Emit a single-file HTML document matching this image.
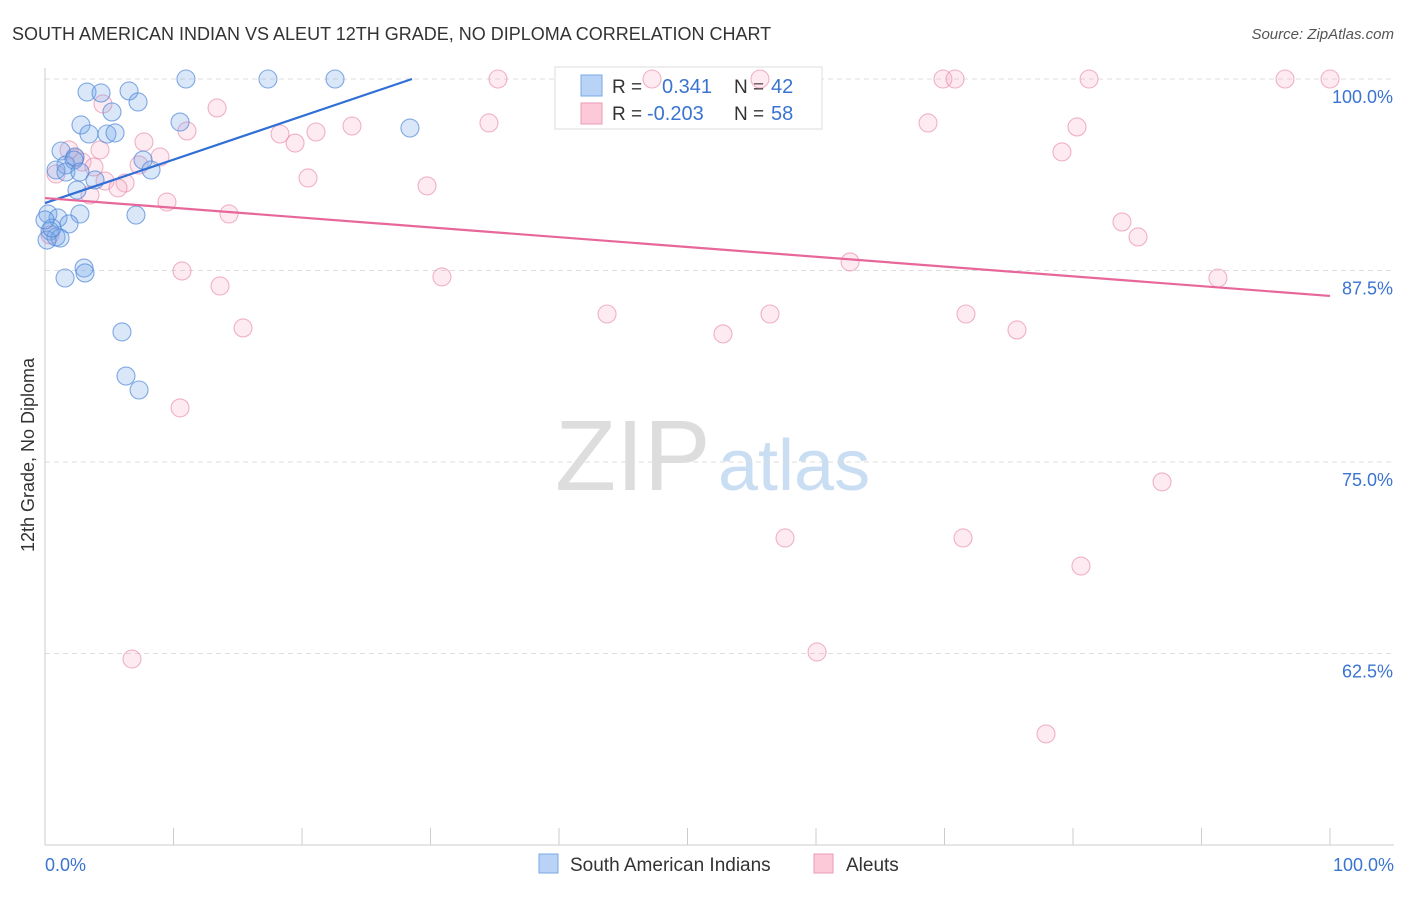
<!DOCTYPE html>
<html><head><meta charset="utf-8"><style>
body{margin:0;background:#fff;font-family:"Liberation Sans",sans-serif;}
svg text{font-family:"Liberation Sans",sans-serif;}
</style></head><body>
<svg id="chart" width="1406" height="892">
<text x="12" y="40" font-size="18" fill="#333">SOUTH AMERICAN INDIAN VS ALEUT 12TH GRADE, NO DIPLOMA CORRELATION CHART</text>
<text x="1394" y="39" font-size="15" fill="#555" font-style="italic" text-anchor="end">Source: ZipAtlas.com</text>
<text x="555" y="490" font-size="100" fill="#ddd" font-family="Liberation Serif">ZIP</text>
<text x="718" y="490" font-size="72" fill="#c9ddf3">atlas</text>
<text transform="translate(34,455) rotate(-90)" font-size="18" fill="#333" text-anchor="middle">12th Grade, No Diploma</text>
<g id="grid"></g>
<g>
<rect x="555" y="67" width="267" height="62" fill="#fff" stroke="#ddd"/>
<rect x="581" y="75" width="21" height="21" fill="#b8d3f5" stroke="#7aa8e6"/>
<text x="612" y="93" font-size="19" fill="#333">R =</text><text x="662" y="93" font-size="20" fill="#3a74d0">0.341</text>
<text x="734" y="93" font-size="19" fill="#333">N =</text><text x="771" y="93" font-size="20" fill="#3a74d0">42</text>
<rect x="581" y="103" width="21" height="21" fill="#fcc9d8" stroke="#eb9ab4"/>
<text x="612" y="120" font-size="19" fill="#333">R =</text><text x="647" y="120" font-size="20" fill="#3a74d0">-0.203</text>
<text x="734" y="120" font-size="19" fill="#333">N =</text><text x="771" y="120" font-size="20" fill="#3a74d0">58</text>
</g>
<g id="pts"></g><g id="lines"></g>
<g>
<rect x="539" y="854" width="19" height="19" fill="#b8d3f5" stroke="#7aa8e6"/>
<text x="570" y="871" font-size="19" fill="#333">South American Indians</text>
<rect x="814" y="854" width="19" height="19" fill="#fcc9d8" stroke="#eb9ab4"/>
<text x="846" y="871" font-size="19" fill="#333">Aleuts</text>
</g>
</svg>
<script>
const yTicks=[100,87.5,75,62.5];
const yTickLabels=["100.0%","87.5%","75.0%","62.5%"];
const xTickLabels=["0.0%","100.0%"];
const blueX=[3.27,4.36,6.54,7.24,5.21,2.80,3.42,4.82,5.45,10.97,17.35,22.57,28.40,10.51,1.25,2.33,1.63,2.26,0.86,1.63,2.72,3.89,2.49,7.63,8.25,0.23,1.01,2.72,1.87,0.39,0.86,1.17,7.08,3.04,3.11,1.56,5.99,6.30,7.32,0.16,0.54,0];
const blueY=[99.15,99.09,99.22,98.50,97.85,97.00,96.41,96.41,96.48,100,100,100,96.80,97.19,95.30,94.91,94.39,94.71,94.06,93.93,93.93,93.41,92.75,94.71,94.06,91.19,90.93,91.19,90.54,90.08,89.69,89.62,91.12,87.66,87.34,87.01,83.49,80.61,79.70,89.49,90.27,90.80];
const pinkX=[35.25,47.24,55.64,69.88,70.82,81.25,96.50,100,13.39,4.51,34.55,68.72,80.31,23.89,21.09,18.29,19.46,11.05,7.70,79.14,1.87,2.88,3.81,8.95,7.32,20.47,29.73,4.67,6.23,5.68,3.50,9.49,14.32,0.86,83.81,85.06,10.66,30.89,62.65,13.62,91.28,43.74,56.42,71.67,15.41,52.76,75.64,10.51,86.93,57.59,71.44,80.62,6.77,60.08,77.90,0.39,2.33,4.28];
const pinkY=[100,100,100,100,100,100,100,100,98.11,98.37,97.13,97.13,96.87,96.93,96.54,96.41,95.82,96.61,95.89,95.24,95.37,94.58,94.26,94.91,94.39,93.54,93.02,93.34,93.21,92.89,92.43,91.97,91.19,93.80,90.67,89.69,87.47,87.08,88.06,86.49,87.01,84.66,84.66,84.66,83.75,83.36,83.62,78.53,73.70,70.04,70.04,68.21,62.14,62.60,57.25,89.82,94.84,95.37];
const blueTrend=[91.9,0.2836];
const pinkTrend=[92.23,-0.0639];
const NS="http://www.w3.org/2000/svg";
const X=v=>45+v*12.85, Y=v=>79+(100-v)/12.5*191.5;
function mk(t,a,p){const e=document.createElementNS(NS,t);for(const k in a)e.setAttribute(k,a[k]);p.appendChild(e);return e;}
const g=document.getElementById('grid');
yTicks.forEach((t,i)=>{
 const l=mk('line',{x1:45,x2:1394,y1:Y(t),y2:Y(t),stroke:'#ddd','stroke-dasharray':'5,4'},g);
 
 
 const tx=mk('text',{x:1393,y:Y(t)+24,'font-size':18,fill:'#3a74d0','text-anchor':'end'},g);tx.textContent=yTickLabels[i];
 
 
});
mk('line',{x1:45,x2:45,y1:68,y2:845,stroke:'#ccc'},g);
mk('line',{x1:45,x2:1394,y1:845,y2:845,stroke:'#ccc'},g);
for(let i=0;i<=10;i++){const t=mk('line',{x1:X(i*10),x2:X(i*10),y1:828,y2:845,stroke:'#ccc'},g);
 
 }
[[0,'start',45],[100,'end',1394]].forEach((o,i)=>{const tx=mk('text',{x:o[2],y:871,'font-size':18,fill:'#3a74d0','text-anchor':o[1]},g);tx.textContent=xTickLabels[i];
 
 });
const p=document.getElementById('pts');
pinkX.forEach((v,i)=>{const c=mk('circle',{cx:X(v),cy:Y(pinkY[i]),r:9,fill:'rgba(248,175,198,0.25)',stroke:'rgba(230,130,165,0.6)','stroke-width':1.1},p);
 
 });
blueX.forEach((v,i)=>{const c=mk('circle',{cx:X(v),cy:Y(blueY[i]),r:9,fill:'rgba(120,170,235,0.28)',stroke:'rgba(80,135,215,0.7)','stroke-width':1.1},p);
 
 });
const L=document.getElementById('lines');
const bx2=(100-blueTrend[0])/blueTrend[1];
const bl=mk('line',{x1:X(0),y1:Y(blueTrend[0]),x2:X(bx2),y2:Y(100),stroke:'#2f6fd6','stroke-width':2.2},L);


const pl=mk('line',{x1:X(0),y1:Y(pinkTrend[0]),x2:X(100),y2:Y(pinkTrend[0]+pinkTrend[1]*100),stroke:'#e8679a','stroke-width':2.2},L);


</script>
</body></html>
